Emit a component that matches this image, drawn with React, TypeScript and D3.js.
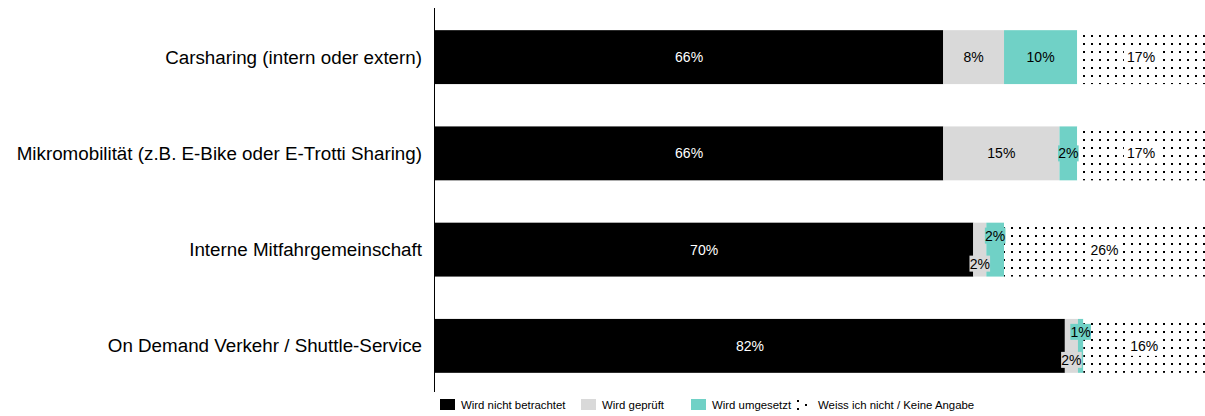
import React from "react";
import * as d3 from "d3";

const categories = [
  "Carsharing (intern oder extern)",
  "Mikromobilität (z.B. E-Bike oder E-Trotti Sharing)",
  "Interne Mitfahrgemeinschaft",
  "On Demand Verkehr / Shuttle-Service",
];
const seriesNames = [
  "Wird nicht betrachtet",
  "Wird geprüft",
  "Wird umgesetzt",
  "Weiss ich nicht / Keine Angabe",
];
const nichtBetrachtet = [66, 66, 69.9, 81.8];
const geprueft = [7.9, 15.1, 1.7, 1.7];
const umgesetzt = [9.5, 2.3, 2.3, 0.7];
const weissNicht = [16.6, 16.6, 26.1, 15.8];

const W = 1205;
const H = 416;
const FONT = "Arial, 'Liberation Sans', sans-serif";
const colors = ["#000000", "#d9d9d9", "#70d1c6", "url(#dots)"];
const fills = ["#000000", "#d9d9d9", "#70d1c6", "#ffffff"];

export default function App() {
  const series = [nichtBetrachtet, geprueft, umgesetzt, weissNicht];
  const x = d3.scaleLinear().domain([0, 100]).range([435, 1205]);
  const y = d3
    .scaleBand<string>()
    .domain(categories)
    .range([9, 394])
    .paddingInner(0.44)
    .paddingOuter(0.22);
  const bw = y.bandwidth();

  const legendX = [440, 581, 691, 797];

  return (
    <svg
      width={W}
      height={H}
      style={{ position: "absolute", left: 0, top: 0, fontFamily: FONT }}
    >
      <defs>
        <pattern id="dots" width={8} height={8} patternUnits="userSpaceOnUse">
          <rect width={8} height={8} fill="#fff" />
          <rect x={3} y={3} width={2} height={2} fill="#000" />
        </pattern>
        <pattern id="dotsLegend" width={16} height={8} patternUnits="userSpaceOnUse" x={797} y={400}>
          <rect width={16} height={8} fill="#fff" />
          <rect x={0} y={0} width={2} height={2} fill="#000" />
          <rect x={8} y={4} width={2} height={2} fill="#000" />
        </pattern>
      </defs>
      {categories.map((c, i) => {
        const y0 = y(c)!;
        const cy = y0 + bw / 2;
        let acc = 0;
        const segs = series.map((s, k) => {
          const v = s[i];
          const x0 = x(acc);
          acc += v;
          const x1 = x(acc);
          return { k, v, x0, x1, w: x1 - x0 };
        });
        const smallGray = segs[1].w < 25;
        const smallTeal = segs[2].w < 25;
        const both = smallGray && smallTeal;
        return (
          <g key={c}>
            <text
              x={422}
              y={cy}
              textAnchor="end"
              dominantBaseline="central"
              fontSize={18.8}
              fill="#000"
            >
              {c}
            </text>
            {segs.map((s) => (
              <rect
                key={s.k}
                x={s.x0}
                y={y0}
                width={s.w}
                height={bw}
                fill={colors[s.k]}
              />
            ))}
            {segs.map((s) => {
              const label = `${Math.round(s.v)}%`;
              const cx = (s.x0 + s.x1) / 2;
              let ly = cy;
              const small = s.w < 25;
              if (both && s.k === 1) ly = cy + 14;
              if (both && s.k === 2) ly = cy - 14;
              const needBox = small || s.k === 3;
              const tw = label.length * 7.8 + 1;
              const pad = s.k === 3 ? 5 : 2;
              const bh = s.k === 3 ? 20 : 16;
              return (
                <g key={"l" + s.k}>
                  {needBox && (
                    <rect
                      x={cx - tw / 2 - pad}
                      y={ly - bh / 2}
                      width={tw + pad * 2}
                      height={bh}
                      fill={fills[s.k]}
                    />
                  )}
                  <text
                    x={cx}
                    y={ly}
                    textAnchor="middle"
                    dominantBaseline="central"
                    fontSize={14}
                    fill={s.k === 0 ? "#fff" : "#000"}
                  >
                    {label}
                  </text>
                </g>
              );
            })}
          </g>
        );
      })}
      <line x1={434.5} x2={434.5} y1={8} y2={392} stroke="#000" strokeWidth={1} />
      {seriesNames.map((n, k) => (
        <g key={n}>
          <rect
            x={legendX[k]}
            y={399}
            width={15}
            height={11}
            fill={k === 3 ? "url(#dotsLegend)" : colors[k]}
          />
          <text
            x={legendX[k] + 21}
            y={405}
            dominantBaseline="central"
            fontSize={11.4}
            fill="#000"
          >
            {n}
          </text>
        </g>
      ))}
    </svg>
  );
}
